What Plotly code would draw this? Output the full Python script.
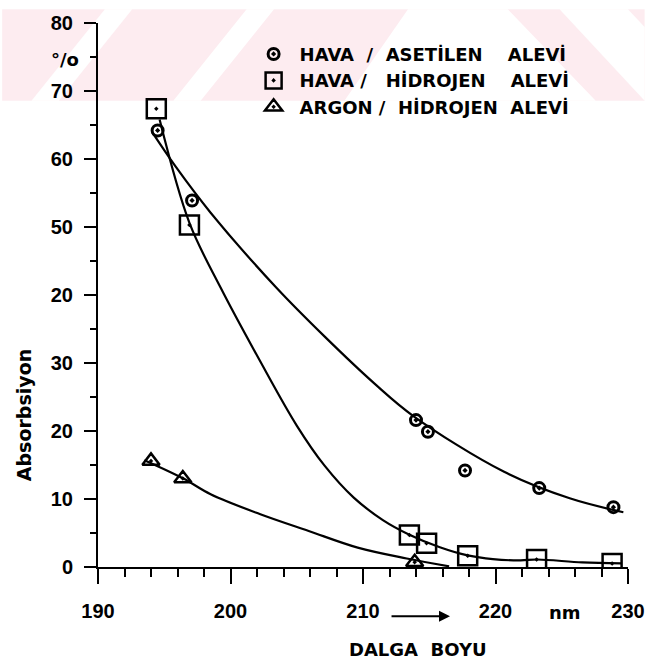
import plotly.graph_objects as go

# ---- measured absorption values (wavelength in nm, absorbance in %) ----
ac_x = [194.5, 197.1, 214.0, 214.9, 217.7, 223.3, 228.9]
ac_y = [64.2, 53.9, 21.6, 19.9, 14.2, 11.6, 8.8]

hh_x = [194.4, 196.9, 213.5, 214.8, 217.9, 223.1, 228.8]
hh_y = [67.4, 50.3, 4.7, 3.5, 1.65, 1.1, 0.5]

ar_x = [194.0, 196.4, 213.9]
ar_y = [15.6, 13.0, 0.7]

# ---- hand-drawn trend curves ----
ac_fit_x = [194.1, 195.85, 198.5, 203.45, 207.15, 210.85, 213.8, 220.65, 225.6, 229.65]
ac_fit_y = [63.9, 58.9, 52.1, 41.1, 33.8, 27.0, 22.2, 14.0, 10.1, 8.05]

hh_fit_x = [194.65, 196.9, 199.25, 202.2, 205.0, 207.1, 209.3, 211.5, 213.5, 215.8,
            217.9, 219.8, 221.9, 223.15, 226.55, 229.5]
hh_fit_y = [65.8, 50.6, 41.1, 30.4, 20.8, 14.9, 10.2, 6.9, 4.75, 2.9,
            1.7, 1.15, 0.97, 1.1, 0.68, 0.54]

ar_fit_x = [193.5, 196.45, 198.5, 202.2, 205.9, 209.6, 213.3, 216.5]
ar_fit_y = [15.7, 13.0, 10.7, 7.8, 5.3, 2.85, 1.25, 0.1]

names = ["HAVA  /  ASETİLEN    ALEVİ", "HAVA /   HİDROJEN    ALEVİ", "ARGON /  HİDROJEN  ALEVİ"]

y_ticks = [0, 10, 20, 30, 40, 50, 60, 70, 80]
y_ticktext = ["0", "10", "20", "30", "20", "50", "60", "70", "80"]
x_ticks = [190, 200, 210, 220, 230]
x_ticktext = ["190", "200", "210", "220", "230"]

W, H = 657, 667
ML, MR, MT, MB = 98, 17, 14, 100
PW, PH = W - ML - MR, H - MT - MB


def px(x, y):
    """pixel position -> paper coordinates"""
    return (x - ML) / PW, (H - MB - y) / PH


def b(s):
    return f"<b>{s}</b>"


fig = go.Figure()

line_style = dict(color="black", width=2.2, shape="spline", smoothing=1.0)
for fx, fy in [(ac_fit_x, ac_fit_y), (hh_fit_x, hh_fit_y), (ar_fit_x, ar_fit_y)]:
    fig.add_trace(go.Scatter(x=fx, y=fy, mode="lines", line=line_style,
                             showlegend=False, hoverinfo="skip"))

fig.add_trace(go.Scatter(x=ac_x, y=ac_y, mode="markers", name=b(names[0]),
                         marker=dict(symbol="circle-open-dot", size=11, color="black",
                                     line=dict(width=3, color="black"))))
fig.add_trace(go.Scatter(x=hh_x, y=hh_y, mode="markers", name=b(names[1]),
                         marker=dict(symbol="square-open-dot", size=19, color="black",
                                     line=dict(width=2.5, color="black"))))
fig.add_trace(go.Scatter(x=ar_x, y=ar_y, mode="markers", name=b(names[2]),
                         marker=dict(symbol="triangle-up-open-dot", size=15, color="black",
                                     line=dict(width=2.5, color="black"))))

# faint pink watermark band across the top of the page
pink = "#fdecf0"
band = [(0, 0), (657, 0), (657, 93), (0, 93)]
white_polys = [
    [(30, 93), (58, 93), (133, 0), (105, 0)],
    [(175, 93), (203, 93), (278, 0), (250, 0)],
    [(415, 0), (517, 0), (607, 93), (350, 93)],
    [(570, 0), (640, 0), (657, 18), (657, 93)],
]


def poly_path(pts):
    p = [px(*q) for q in pts]
    return "M " + " L ".join(f"{a:.4f},{c:.4f}" for a, c in p) + " Z"


shapes = [dict(type="path", xref="paper", yref="paper", path=poly_path(band),
               fillcolor=pink, line=dict(width=0), layer="below")]
for wp in white_polys:
    shapes.append(dict(type="path", xref="paper", yref="paper", path=poly_path(wp),
                       fillcolor="white", line=dict(width=0), layer="below"))

bold = dict(family="DejaVu Sans", size=18, color="black")
tick_font = dict(family="Liberation Sans", size=20, color="black")

annotations = []
x0, y0 = px(64, 51)
annotations.append(dict(x=x0, y=y0, xref="paper", yref="paper", text=b("°/o"),
                        showarrow=False, font=bold, xanchor="center", yanchor="middle"))
x0, y0 = px(22, 413)
annotations.append(dict(x=x0, y=y0, xref="paper", yref="paper", text=b("Absorbsiyon"),
                        showarrow=False, textangle=-90, xanchor="center", yanchor="middle",
                        font=dict(family="DejaVu Sans", size=19, color="black")))
x0, y0 = px(425, 651)
annotations.append(dict(x=x0, y=y0, xref="paper", yref="paper", text=b("DALGA  BOYU"),
                        showarrow=False, font=bold, xanchor="center", yanchor="middle"))
x0, y0 = px(576, 613)
annotations.append(dict(x=x0, y=y0, xref="paper", yref="paper", text=b("nm"),
                        showarrow=False, font=bold, xanchor="center", yanchor="middle"))
x0, y0 = px(458, 617)
annotations.append(dict(x=x0, y=y0, xref="paper", yref="paper", text="",
                        showarrow=True, ax=-60, ay=0, axref="pixel", ayref="pixel",
                        arrowhead=2, arrowsize=1.1, arrowwidth=2, arrowcolor="black"))

lx, ly = px(251, 27)

fig.update_layout(
    width=W, height=H,
    margin=dict(l=ML, r=MR, t=MT, b=MB, pad=0),
    paper_bgcolor="white", plot_bgcolor="rgba(0,0,0,0)",
    shapes=shapes, annotations=annotations,
    showlegend=True,
    legend=dict(x=lx, y=ly, xanchor="left", yanchor="top", bgcolor="rgba(0,0,0,0)",
                font=dict(family="DejaVu Sans", size=18, color="black"),
                tracegroupgap=0, itemclick=False, itemwidth=42),
    xaxis=dict(range=[190, 230], tickvals=x_ticks, ticktext=[b(t) for t in x_ticktext],
               ticks="outside", ticklen=15, tickwidth=2,
               tickcolor="black", showline=True, linecolor="black", linewidth=2,
               showgrid=False, zeroline=False, tickfont=tick_font, ticklabelstandoff=10,
               minor=dict(dtick=2, tick0=190, ticks="outside", ticklen=8, tickwidth=2,
                          tickcolor="black", showgrid=False)),
    yaxis=dict(range=[0, 80], tickvals=y_ticks, ticktext=[b(t) for t in y_ticktext],
               ticks="outside", ticklen=12, tickwidth=2, tickcolor="black", showline=True,
               linecolor="black", linewidth=2, showgrid=False, zeroline=False,
               tickfont=tick_font, ticklabelstandoff=7,
               minor=dict(dtick=5, tick0=0, ticks="outside", ticklen=6, tickwidth=2,
                          tickcolor="black", showgrid=False)),
)

fig.write_html("out.html")
